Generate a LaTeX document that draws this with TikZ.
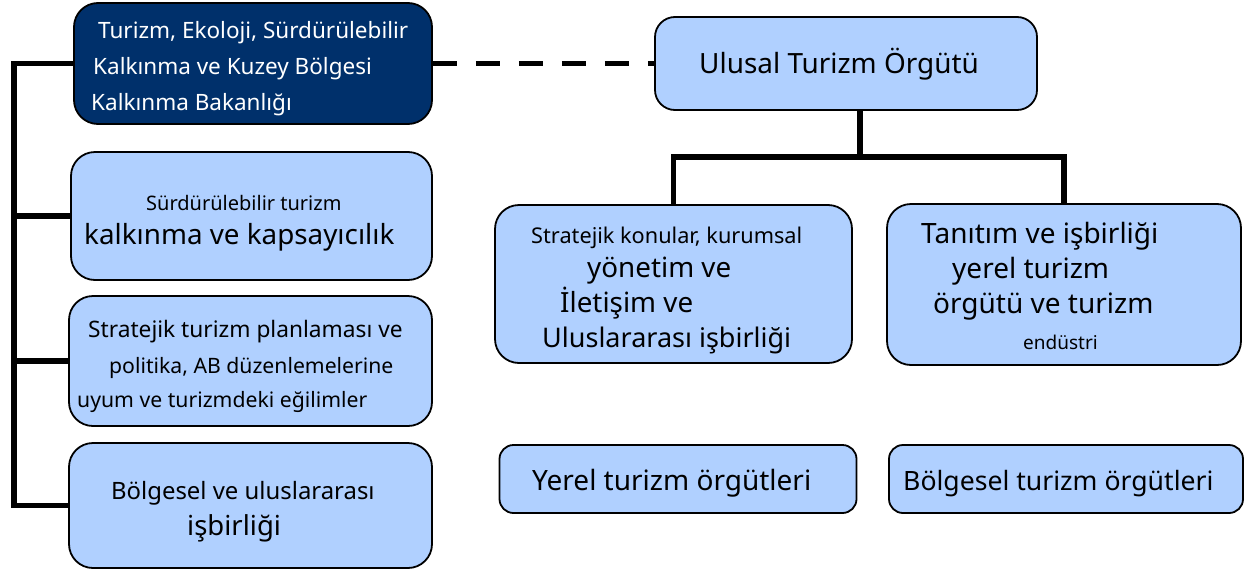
\documentclass[tikz,border=0pt]{standalone}
\usepackage{fontspec}
\setmainfont{Noto Sans}
\definecolor{lb}{RGB}{176,208,255}
\definecolor{navy}{RGB}{0,48,107}
\newcommand{\fs}[1]{\fontsize{#1}{#1}\selectfont}
\begin{document}
\begin{tikzpicture}[x=1pt,y=-1pt,
 box/.style={draw=black, line width=1.8pt, rounded corners=24pt, fill=lb, inner sep=0pt},
 lbl/.style={anchor=base west, inner sep=0pt, text=black},
 conn/.style={line width=5.5pt}]
\useasboundingbox (0,0) rectangle (1249,573);
\fill[white] (0,0) rectangle (1249,573);
% boxes
\node[box, fill=navy, minimum width=358pt, minimum height=121pt] (d) at (253,63.5) {};
\node[box, rounded corners=20pt, minimum width=382pt, minimum height=93pt] (u) at (846,63.5) {};
\node[box, minimum width=361pt, minimum height=128pt] (b3) at (251.5,216) {};
\node[box, minimum width=363pt, minimum height=130pt] (b4) at (250.5,361) {};
\node[box, minimum width=363pt, minimum height=125pt] (b5) at (250.5,505.5) {};
\node[box, minimum width=357pt, minimum height=158pt] (b6) at (673.5,284) {};
\node[box, minimum width=354pt, minimum height=161pt] (b7) at (1064,284.5) {};
\node[box, rounded corners=14pt, minimum width=357pt, minimum height=68pt] (b8) at (678,479) {};
\node[box, rounded corners=14pt, minimum width=354pt, minimum height=68pt] (b9) at (1066,479) {};
% connectors
\coordinate (lt) at (14,63.5);
\coordinate (lbot) at (14,505.5);
\draw[conn] (d.west) -- (lt) -- (lbot) -- (b5.west);
\draw[conn] (b3.west) -- (b3.west -| lt);
\draw[conn] (b4.west) -- (b4.west -| lt);
\draw[conn, dash pattern=on 24pt off 19pt] (d.east) -- (u.west);
\coordinate (jn) at (860,157);
\draw[conn] (u.south -| jn) -- (jn);
\draw[conn] (b6.north) |- (jn);
\draw[conn] (b7.north) |- (jn);
% texts
\node[lbl, text=white, font=\fs{22.5}] (d1) at (98,38) {Turizm, Ekoloji, Sürdürülebilir};
\node[lbl, text=white, font=\fs{22.5}] (d2) at (93,74) {Kalkınma ve Kuzey Bölgesi};
\node[lbl, text=white, font=\fs{22.5}] (d3) at (91,110) {Kalkınma Bakanlığı};
\node[lbl, font=\fs{27.9}] (u1) at (699,73) {Ulusal Turizm Örgütü};
\node[lbl, font=\fs{20}] (s1) at (146,210) {Sürdürülebilir turizm};
\node[lbl, font=\fs{27.8}] (s2) at (84,244) {kalkınma ve kapsayıcılık};
\node[lbl, font=\fs{22.7}] (p1) at (88,337) {Stratejik turizm planlaması ve};
\node[lbl, font=\fs{21.2}] (p2) at (109,373) {politika, AB düzenlemelerine};
\node[lbl, font=\fs{21.2}] (p3) at (77,407) {uyum ve turizmdeki eğilimler};
\node[lbl, font=\fs{23.9}] (r1) at (111,499) {Bölgesel ve uluslararası};
\node[lbl, font=\fs{27.5}] (r2) at (187,535) {işbirliği};
\node[lbl, font=\fs{21.7}] (k1) at (531,243) {Stratejik konular, kurumsal};
\node[lbl, font=\fs{27.8}] (k2) at (587,277) {yönetim ve};
\node[lbl, font=\fs{27.8}] (k3) at (560,312) {İletişim ve};
\node[lbl, font=\fs{27}] (k4) at (542,347) {Uluslararası işbirliği};
\node[lbl, font=\fs{28}] (t1) at (921,243) {Tanıtım ve işbirliği};
\node[lbl, font=\fs{28}] (t2) at (952,278) {yerel turizm};
\node[lbl, font=\fs{28}] (t3) at (933,313) {örgütü ve turizm};
\node[lbl, font=\fs{19}] (t4) at (1023,349) {endüstri};
\node[lbl, font=\fs{28}] (y1) at (532,490) {Yerel turizm örgütleri};
\node[lbl, font=\fs{26.6}] (g1) at (903,490) {Bölgesel turizm örgütleri};
\end{tikzpicture}
\end{document}
